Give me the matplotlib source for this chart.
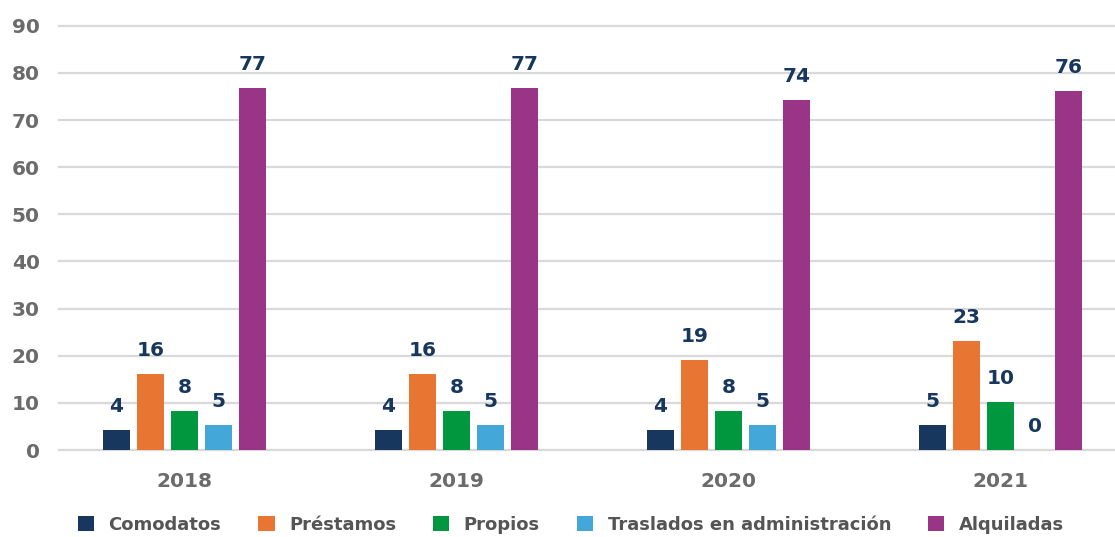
import numpy as np
import matplotlib.pyplot as plt

# Datos
anios = ["2018", "2019", "2020", "2021"]
series = ["Comodatos", "Préstamos", "Propios", "Traslados en administración", "Alquiladas"]
comodatos = [4.2, 4.2, 4.2, 5.4]
prestamos = [16.1, 16.1, 19.1, 23.1]
propios = [8.2, 8.2, 8.2, 10.2]
traslados = [5.4, 5.4, 5.4, 0]
alquiladas = [76.8, 76.8, 74.3, 76.1]
valores = [comodatos, prestamos, propios, traslados, alquiladas]
colores = ["#17375E", "#E97532", "#00973F", "#44A7DA", "#993486"]

plt.rcParams['font.family'] = ['DejaVu Sans']

fig = plt.figure(figsize=(11.15, 5.37), dpi=100)
ax = fig.add_axes([0.053, 0.162, 0.947, 0.79])

x = np.arange(len(anios))
ancho = 0.1
paso = 0.125
for i, (nombre, vals, col) in enumerate(zip(series, valores, colores)):
    pos = x + (i - 2) * paso
    barras = ax.bar(pos, vals, ancho, color=col, label=nombre, zorder=3)
    for b, v in zip(barras, vals):
        ax.annotate("%.0f" % v, (b.get_x() + b.get_width() / 2, v),
                    xytext=(0, 10), textcoords="offset points",
                    ha="center", va="bottom", fontsize=14.5, fontweight="bold",
                    color="#17375E")

ax.set_ylim(0, 90)
ax.set_xlim(-0.46, 3.42)
ax.set_yticks(np.arange(0, 91, 10))
ax.set_xticks(x)
ax.set_xticklabels(anios)
ax.yaxis.grid(True, color="#D9D9D9", linewidth=1.6, zorder=0)
for gl in ax.get_ygridlines():
    gl.set_clip_on(False)
ax.set_axisbelow(True)
for s in ax.spines.values():
    s.set_visible(False)
ax.tick_params(length=0, labelsize=14.5, labelcolor="#6B6B6B")
ax.tick_params(axis="y", pad=14)
ax.tick_params(axis="x", pad=16)
for t in ax.get_xticklabels() + ax.get_yticklabels():
    t.set_fontweight("bold")

leg = fig.legend(loc="lower center", bbox_to_anchor=(0.512, -0.025), ncol=5,
                 frameon=False, handlelength=0.9, handleheight=0.9,
                 columnspacing=2.05, handletextpad=0.8,
                 prop={"size": 13, "weight": "bold"})
for t in leg.get_texts():
    t.set_color("#555555")

fig.savefig("out.png", dpi=100)
